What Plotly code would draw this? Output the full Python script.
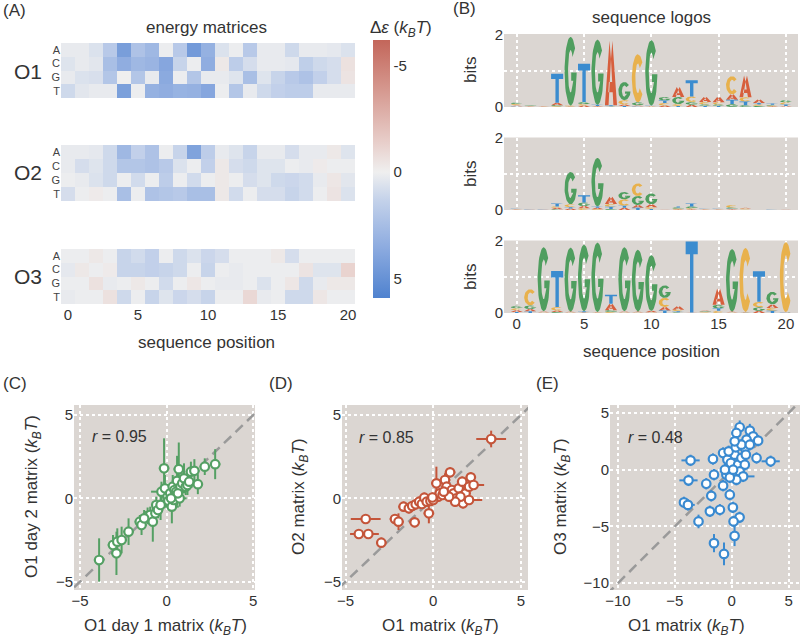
import numpy as np
import plotly.graph_objects as go

# energy matrices, delta epsilon (kBT); rows A, C, G, T; columns are positions 0..20
positions = list(range(21))
bases = ["A", "C", "G", "T"]

o1_energy = [
    [0.2, 0.2, 0.6, 1.8, 4.3, 2.2, 2.8, 0.1, 1.8, 4.5, 3.2, 0.6, 0.1, 1.8, 0.2, 0.2, 1.0, 0.2, 0.2, 0.3, 0.6],
    [0.5, 0.2, 0.4, 2.4, 3.4, 2.8, 3.0, 3.8, 1.2, 0.1, 3.4, -0.3, 1.6, 0.8, 0.2, 0.2, 0.3, 1.5, 1.0, 0.8, -0.6],
    [0.2, 0.6, 0.7, 2.0, 0.0, 2.0, 0.2, 3.6, 0.1, 2.0, 0.2, 0.2, 0.5, 2.4, 0.5, 1.2, 1.8, 2.2, 1.4, 0.8, -0.5],
    [1.0, 0.4, 0.2, 0.2, 4.2, 0.1, 3.2, 3.4, 3.1, 3.2, 3.8, 0.1, 2.0, 0.2, 1.0, 1.4, 1.6, 1.6, 0.2, 0.2, 0.2],
]
o2_energy = [
    [0.2, 0.2, 0.3, 1.0, 2.8, 1.4, 2.2, 0.1, 1.2, 4.0, 1.6, 0.2, 0.5, 1.2, 0.2, 0.2, 0.8, 0.2, 0.2, -0.3, 0.5],
    [0.2, 0.8, 0.5, 1.0, 2.0, 2.0, 2.2, 1.8, 0.6, 0.1, 1.4, -0.3, 0.8, 1.0, 0.5, 0.5, 0.1, 0.2, -0.2, 0.1, 0.1],
    [0.1, 0.2, 0.6, 1.0, 0.1, 0.9, 0.1, 1.6, 0.1, 0.9, 0.1, -0.3, 0.1, 0.8, 0.5, 1.0, 1.1, 0.9, 0.2, -0.4, 0.4],
    [0.8, 0.1, -0.2, 0.1, 2.4, 0.1, 2.2, 2.0, 1.8, 2.4, 2.4, -0.3, 0.9, 0.1, 0.8, 0.8, 1.2, 0.9, 0.1, -0.5, 0.6],
]
o3_energy = [
    [0.1, 0.1, -0.3, 0.1, 1.2, 0.9, 1.4, 0.1, 1.0, 0.6, 1.1, 0.8, 0.1, 0.1, 0.1, -0.3, 0.8, 0.1, 0.1, 0.1, 0.1],
    [0.3, -0.3, 0.1, -0.2, 1.2, 1.2, 1.4, 1.2, 1.0, 0.1, 1.2, 0.1, 0.2, 0.1, 0.1, 0.1, 0.1, -0.5, 0.5, 0.5, -1.2],
    [0.1, 0.1, -0.6, 0.2, 0.1, -0.3, 0.1, 0.9, 0.1, -0.4, 0.1, 0.2, 0.2, 0.1, 0.6, 0.1, -0.4, 1.0, 0.2, -0.3, -0.3],
    [0.2, 0.1, 0.1, -0.6, 1.0, 0.1, 1.2, 0.5, 1.1, 0.8, 1.2, 0.1, 0.1, -1.0, 0.2, 0.1, 1.0, 1.0, -0.4, 0.1, 0.1],
]

# sequence logos, information (bits) per letter and position
logo1_A = [.03, .01, .01, .07, .01, .04, .02, 1.78, .04, .03, .01, .04, .27, .06, .14, .15, .15, .60, .10, .02, .03]
logo1_C = [.03, .01, .01, .02, .02, .04, .01, .01, .12, 1.33, .01, .07, .05, .15, .07, .06, .50, .12, .04, .02, .06]
logo1_G = [.04, .02, .01, .03, 1.90, .06, 1.80, .01, .50, .08, 1.81, .10, .20, .08, .04, .04, .08, .05, .03, .02, .06]
logo1_T = [.02, .01, .01, .80, .01, 1.06, .03, .03, .03, .02, .02, .07, .03, .45, .03, .03, .12, .10, .04, .04, .04]

logo2_A = [.01, .005, .005, .04, .04, .06, .04, .20, .06, .08, .08, .005, .02, .02, .01, .01, .02, .03, 0, 0, .005]
logo2_C = [.01, .005, .005, .04, .08, .05, .02, .08, .18, .35, .05, .005, .02, .03, .01, .01, .07, .02, 0, 0, .005]
logo2_G = [.01, .005, .005, .02, .90, .10, 1.35, .03, .20, .25, .30, .005, .03, .05, .01, .01, .03, .01, 0, 0, .005]
logo2_T = [.01, .01, .01, .08, .04, .20, .04, .06, .06, .06, .03, .005, .03, .08, .01, .01, .02, .01, 0, .02, .005]

logo3_A = [.05, .06, .03, .04, .02, .01, .01, .18, .03, .02, .04, .10, .10, .005, .03, .45, .02, .01, .06, .10, .005]
logo3_C = [.05, .45, .01, .10, .01, .01, .01, .03, .01, .01, .01, .25, .04, .005, .02, .06, .01, 1.78, .15, .08, 1.95]
logo3_G = [.07, .10, 1.78, .03, 1.78, 1.85, 1.93, .05, 1.78, 1.72, 1.55, .35, .02, .005, .02, .10, 1.74, .01, .10, .35, .01]
logo3_T = [.03, .05, .01, 1.00, .01, .03, .01, .25, .01, .01, .01, .07, .03, 1.98, .01, .07, .01, .01, .85, .06, .01]

# scatter comparisons (kBT) with errors
c_x = [-3.9, -3.1, -2.9, -2.85, -2.6, -2.2, -1.55, -1.45, -1.1, -0.95, -0.8, -0.65, -0.6, -0.5, -0.35,
       -0.3, -0.15, -0.1, 0.05, 0.1, 0.2, 0.3, 0.35, 0.4, 0.45, 0.5, 0.55, 0.6, 0.7, 0.75, 0.8, 0.9,
       1.0, 1.1, 1.2, 1.3, 1.4, 1.6, 1.8, 2.2, 2.8, -1.3, 0.25, 0.65]
c_y = [-3.7, -2.8, -3.3, -2.6, -2.5, -2.0, -1.4, -1.6, -1.05, -1.0, -1.4, -0.9, -0.4, -0.7, -0.4,
       0.4, 1.8, 0.6, 0.1, -0.15, 0.3, -0.5, 0.7, -0.1, 0.5, 0.2, 0.4, 1.05, 1.75, 0.0, 0.7, 0.9,
       1.2, 0.7, 0.8, 1.0, 1.6, 1.65, 0.85, 1.9, 2.05, -1.2, 0.0, 0.3]
c_xerr = [0.3, 0.3, 0.3, 0.4, 0.3, 0.3, 0.3, 0.3, 0.3, 0.3, 0.3, 0.3, 0.3, 0.3, 0.5,
          0.6, 0.3, 0.3, 0.4, 0.4, 0.3, 0.4, 0.4, 0.5, 0.3, 0.3, 0.4, 0.3, 0.3, 0.4, 0.4, 0.3,
          0.3, 0.4, 0.3, 0.3, 0.3, 0.3, 0.3, 0.3, 0.3, 0.3, 0.3, 0.3]
c_yerr = [1.3, 0.6, 1.3, 0.8, 0.8, 0.8, 0.4, 0.6, 0.5, 0.5, 1.2, 0.5, 0.5, 0.5, 0.9,
          0.6, 1.8, 0.8, 0.5, 0.5, 0.5, 1.0, 0.7, 0.6, 0.5, 0.5, 0.6, 1.5, 1.6, 0.5, 0.7, 0.6,
          0.9, 0.5, 0.6, 0.5, 0.6, 0.7, 0.6, 0.5, 0.9, 0.5, 0.4, 0.5]

d_x = [3.3, -3.85, -4.24, -3.7, -2.96, -2.18, -1.98, -1.69, -1.39, -1.2, -1.0, -0.8, -0.65, -0.51,
       -0.37, -0.25, -1.06, -0.16, 0.18, 0.28, 0.37, 0.53, 0.67, 0.76, 0.96, 1.06, 1.16, 1.31, 1.45,
       1.65, 1.7, 1.84, 2.04, 2.14, 2.3, 1.55, 2.04, 1.25, 0.9, 0.0, -0.05, 0.6]
d_y = [3.56, -1.24, -2.14, -2.14, -2.66, -1.24, -1.4, -0.5, -0.6, -0.46, -0.36, -0.2, -0.34, 0.04,
       -0.2, -0.9, -1.44, -0.16, 0.9, 0.1, 0.3, 0.2, 1.1, 0.7, 1.56, 0.5, 0.3, 0.0, 0.6,
       1.0, -0.3, 0.3, 0.7, 1.26, 0.8, 0.1, -0.1, -0.2, 0.1, -0.1, 0.05, 0.4]
d_xerr = [0.85, 0.85, 0.5, 0.6, 0.3, 0.3, 0.3, 0.3, 0.3, 0.3, 0.3, 0.3, 0.3, 0.3,
          0.3, 0.3, 0.3, 0.3, 0.3, 0.3, 0.3, 0.3, 0.3, 0.3, 0.3, 0.3, 0.3, 0.3, 0.3,
          0.3, 0.3, 0.3, 0.3, 0.3, 0.6, 0.3, 0.75, 0.3, 0.3, 0.3, 0.3, 0.3]
d_yerr = [0.5, 0.3, 0.3, 0.3, 0.3, 0.3, 0.5, 0.3, 0.3, 0.3, 0.3, 0.3, 0.3, 0.3,
          0.3, 0.6, 0.3, 0.3, 1.0, 0.3, 0.3, 0.3, 0.4, 0.3, 0.3, 0.3, 0.3, 0.3, 0.3,
          0.3, 0.3, 0.3, 0.3, 0.3, 0.3, 0.3, 0.3, 0.3, 0.3, 0.3, 0.3, 0.3]

e_x = [-3.62, -3.8, -4.2, -3.85, -2.92, -1.56, -0.68, -1.92, -1.04, 0.1, 0.69, 0.16, 0.25, -1.8,
       -2.24, -1.56, -1.65, -0.76, -0.17, -0.47, -0.76, -0.38, -0.08, 0.26, 0.56, 0.85, 1.15, 0.7,
       1.0, 0.41, -0.17, 0.12, -0.27, 0.35, 0.7, 0.41, 1.59, 1.88, 1.3, 2.18, 3.42, 2.32, 1.15,
       0.85, 1.59, 0.26, 1.24, -0.6]
e_y = [0.82, -0.94, -2.88, -3.1, -4.56, -6.47, -7.42, -3.67, -3.53, -3.32, -4.2, -4.56, -5.83, -2.3,
       -1.24, -0.44, 0.94, -1.41, -2.2, -0.44, 1.47, 0.88, 0.59, 1.32, 0.44, 1.03, 0.44, -0.15,
       -0.59, -0.88, -0.68, 0.0, 1.62, 1.97, 3.74, 3.24, 3.44, 2.94, 2.65, 1.03, 0.74, 2.56, 1.91,
       2.2, 2.2, 2.5, 1.32, 0.0]
e_xerr = [0.8, 0.8, 0.4, 0.6, 0.4, 0.4, 0.4, 0.4, 0.4, 0.4, 0.4, 0.4, 0.4, 0.4,
          0.4, 0.4, 0.4, 0.4, 0.4, 0.4, 0.4, 0.4, 0.4, 0.4, 0.4, 0.4, 0.4, 0.4,
          1.0, 0.4, 0.4, 0.4, 0.4, 0.4, 0.4, 0.4, 0.4, 0.4, 0.4, 0.4, 0.8, 0.4, 0.4,
          0.4, 0.4, 0.4, 0.4, 0.4]
e_yerr = [0.5, 0.5, 0.5, 0.5, 0.6, 0.8, 1.0, 0.5, 0.5, 0.5, 0.5, 0.5, 0.9, 0.5,
          0.5, 0.5, 0.5, 0.5, 0.5, 0.5, 0.5, 0.5, 0.5, 0.5, 0.5, 0.5, 0.5, 0.5,
          0.5, 0.5, 0.5, 0.5, 0.5, 0.5, 0.6, 0.5, 0.6, 0.5, 0.5, 0.5, 0.5, 0.5, 0.5,
          0.5, 0.5, 0.5, 0.5, 0.5]

W, H = 800, 640
FONT = "Liberation Sans, Arial, sans-serif"
TXT = "#333333"
BG = "#dbd6d2"
LETTER_COLORS = {"A": "#d75f3d", "C": "#e8b14c", "G": "#4f9e5f", "T": "#3b8ccf"}
KBT = "(<i>k</i><sub><i>B</i></sub><i>T</i>)"


def px(x):
    return x / W


def py(y):
    return 1 - y / H


# letter outlines in a unit box
def glyph(letter):
    if letter == "T":
        return [[(0, 1), (1, 1), (1, 0.82), (0.64, 0.82), (0.64, 0), (0.36, 0), (0.36, 0.82), (0, 0.82)]]
    if letter == "A":
        return [
            [(0, 0), (0.38, 1), (0.62, 1), (0.5, 0.72), (0.3, 0)],
            [(1, 0), (0.62, 1), (0.38, 1), (0.5, 0.72), (0.7, 0)],
            [(0.28, 0.2), (0.72, 0.2), (0.67, 0.36), (0.33, 0.36)],
        ]
    if letter == "C":
        t = np.radians(np.linspace(42, 318, 40))
        outer = list(zip(0.5 + 0.5 * np.cos(t), 0.5 + 0.5 * np.sin(t)))
        inner = list(zip(0.5 + 0.21 * np.cos(t), 0.5 + 0.31 * np.sin(t)))[::-1]
        return [outer + inner]
    # G
    t = np.radians(np.linspace(42, 355, 44))
    outer = list(zip(0.5 + 0.5 * np.cos(t), 0.5 + 0.5 * np.sin(t)))
    ti = np.radians(np.linspace(42, 320, 40))
    inner = list(zip(0.5 + 0.21 * np.cos(ti), 0.5 + 0.31 * np.sin(ti)))[::-1]
    bar = [(1.0, 0.48), (0.55, 0.48), (0.55, 0.36), (0.72, 0.36)]
    return [outer + bar + inner]


def logo_traces(heights, xa, ya, width=0.9):
    traces = []
    stacks = {b: ([], []) for b in bases}
    for p in positions:
        col = [(heights[b][p], b) for b in bases]
        col.sort()
        base = 0.0
        for h, b in col:
            if h <= 0:
                continue
            for poly in glyph(b):
                xs, ys = stacks[b]
                for gx, gy in poly:
                    xs.append(p - width / 2 + gx * width)
                    ys.append(base + gy * h)
                xs.append(None)
                ys.append(None)
            base += h
    for b in bases:
        xs, ys = stacks[b]
        traces.append(go.Scatter(
            x=xs, y=ys, mode="lines", fill="toself", fillcolor=LETTER_COLORS[b],
            line=dict(width=0, color=LETTER_COLORS[b]), hoverinfo="skip",
            showlegend=False, xaxis=xa, yaxis=ya,
        ))
    return traces


fig = go.Figure()

# (A) energy matrices
heat_domains = [(43, 98), (145, 201), (249, 304)]
for i, m in enumerate([o1_energy, o2_energy, o3_energy]):
    fig.add_trace(go.Heatmap(
        z=-np.array(m), x=positions, y=[0, 1, 2, 3], coloraxis="coloraxis",
        xaxis=f"x{i + 1}" if i else "x", yaxis=f"y{i + 1}" if i else "y",
        hoverinfo="skip",
    ))

# (B) sequence logos
logos = [
    {"A": logo1_A, "C": logo1_C, "G": logo1_G, "T": logo1_T},
    {"A": logo2_A, "C": logo2_C, "G": logo2_G, "T": logo2_T},
    {"A": logo3_A, "C": logo3_C, "G": logo3_G, "T": logo3_T},
]
for i, lg in enumerate(logos):
    for tr in logo_traces(lg, f"x{i + 4}", f"y{i + 4}"):
        fig.add_trace(tr)

# (C)-(E) scatter panels
scatters = [
    (c_x, c_y, c_xerr, c_yerr, "#55a064", 7),
    (d_x, d_y, d_xerr, d_yerr, "#c4553a", 8),
    (e_x, e_y, e_xerr, e_yerr, "#3a8ad0", 9),
]
for x, y, xe, ye, color, n in scatters:
    fig.add_trace(go.Scatter(
        x=[-12, 7], y=[-12, 7], mode="lines",
        line=dict(color="#9a9a9a", width=2.5, dash="10px,6px"),
        hoverinfo="skip", showlegend=False, xaxis=f"x{n}", yaxis=f"y{n}",
    ))
    fig.add_trace(go.Scatter(
        x=x, y=y, mode="markers",
        marker=dict(size=8.5, color="white", line=dict(color=color, width=2.2)),
        error_x=dict(type="data", array=xe, color=color, thickness=2, width=0),
        error_y=dict(type="data", array=ye, color=color, thickness=2, width=0),
        showlegend=False, xaxis=f"x{n}", yaxis=f"y{n}",
    ))

layout = dict(
    template="none",
    width=W, height=H, margin=dict(l=0, r=0, t=0, b=0, autoexpand=False),
    paper_bgcolor="white", plot_bgcolor=BG,
    font=dict(family=FONT, size=14, color=TXT),
    coloraxis=dict(
        colorscale=[
            [0, "#4f82cf"], [0.2, "#8eace0"], [0.38, "#c4d2ea"], [0.488, "#efefef"],
            [0.6, "#e8cfcb"], [0.8, "#d69a91"], [1, "#c3665a"],
        ],
        cmin=-5.9, cmax=6.2,
        colorbar=dict(
            x=px(373), xanchor="left", y=py(169), yanchor="middle",
            len=258 / H, lenmode="fraction", thickness=17, outlinewidth=0,
            tickvals=[5, 0, -5], ticktext=["-5", "0", "5"], ticks="",
            tickfont=dict(size=15, color=TXT), ypad=0, xpad=0,
        ),
    ),
)

grid = dict(showgrid=True, gridcolor="white", griddash="dot", gridwidth=1.5,
            zeroline=False, showline=False, ticks="", automargin=False)

for i, (top, bot) in enumerate(heat_domains):
    k = "" if i == 0 else str(i + 1)
    layout[f"xaxis{k}"] = dict(
        domain=[px(61), px(355)], anchor=f"y{k}", range=[-0.5, 20.5], automargin=False,
        showgrid=False, zeroline=False, ticks="", tickvals=[0, 5, 10, 15, 20],
        showticklabels=(i == 2), tickfont=dict(size=15),
    )
    layout[f"yaxis{k}"] = dict(
        domain=[py(bot), py(top)], anchor=f"x{k}", range=[3.5, -0.5], automargin=False,
        showgrid=False, zeroline=False, ticks="", tickvals=[0, 1, 2, 3],
        ticktext=bases, tickfont=dict(size=11, color="#444"),
    )

logo_domains = [(34, 107), (137.5, 210), (240.5, 313)]
for i, (top, bot) in enumerate(logo_domains):
    n = i + 4
    layout[f"xaxis{n}"] = dict(
        grid, domain=[px(504), px(798)], anchor=f"y{n}", range=[-0.95, 20.9],
        tickvals=[0, 5, 10, 15, 20], showticklabels=(i == 2), tickfont=dict(size=15),
    )
    layout[f"yaxis{n}"] = dict(
        grid, domain=[py(bot), py(top)], anchor=f"x{n}", range=[0, 2.02],
        tickvals=[0, 2], tickfont=dict(size=15),
        minor=dict(tickvals=[1], showgrid=True, gridcolor="white", griddash="dot", gridwidth=1.5),
    )

scatter_axes = [
    (7, (74, 255), [-5.35, 5.1], [-5.5, 5.6], [-5, 0, 5], [-5, 0, 5]),
    (8, (342, 528), [-5.2, 5.4], [-5.5, 5.6], [-5, 0, 5], [-5, 0, 5]),
    (9, (610, 800), [-10.7, 6.0], [-10.6, 5.7], [-10, -5, 0, 5], [-10, -5, 0, 5]),
]
for n, (x0, x1), xr, yr, xt, yt in scatter_axes:
    layout[f"xaxis{n}"] = dict(
        grid, domain=[px(x0), px(x1)], anchor=f"y{n}", range=xr, tickvals=xt,
        tickfont=dict(size=15),
    )
    layout[f"yaxis{n}"] = dict(
        grid, domain=[py(590), py(405)], anchor=f"x{n}", range=yr, tickvals=yt,
        tickfont=dict(size=15),
    )

fig.update_layout(**layout)

notes = [
    ("(A)", 1, 10, 17, 0, "left"),
    ("(B)", 451, 9, 17, 0, "left"),
    ("(C)", 1, 383, 17, 0, "left"),
    ("(D)", 267, 383, 17, 0, "left"),
    ("(E)", 534, 383, 17, 0, "left"),
    ("energy matrices", 207, 28, 17, 0, "center"),
    ("sequence position", 207, 342, 17, 0, "center"),
    ("sequence logos", 651, 18, 17, 0, "center"),
    ("sequence position", 651, 351, 17, 0, "center"),
    ("Δ<i>ε</i> " + KBT, 368, 29, 17, 0, "left"),
    ("O1", 28, 71, 21, 0, "center"),
    ("O2", 28, 173, 21, 0, "center"),
    ("O3", 28, 276, 21, 0, "center"),
    ("bits", 470, 70, 17, -90, "center"),
    ("bits", 470, 174, 17, -90, "center"),
    ("bits", 470, 277, 17, -90, "center"),
    ("O1 day 1 matrix " + KBT, 165, 627, 17, 0, "center"),
    ("O1 matrix " + KBT, 440, 627, 17, 0, "center"),
    ("O1 matrix " + KBT, 686, 627, 17, 0, "center"),
    ("O1 day 2 matrix " + KBT, 33, 497, 17, -90, "center"),
    ("O2 matrix " + KBT, 300, 497, 17, -90, "center"),
    ("O3 matrix " + KBT, 562, 497, 17, -90, "center"),
    ("<i>r</i> = 0.95", 90, 436, 16, 0, "left"),
    ("<i>r</i> = 0.85", 357, 437, 16, 0, "left"),
    ("<i>r</i> = 0.48", 626, 437, 16, 0, "left"),
]
for text, x, y, size, ang, align in notes:
    fig.add_annotation(
        text=text, x=px(x), y=py(y), xref="paper", yref="paper",
        xanchor=align, yanchor="middle", showarrow=False, textangle=ang,
        font=dict(size=size, color=TXT, family=FONT),
    )

# the page body has a default 8px margin; drop it so the figure fills the window
fig.write_html(
    "out.html",
    config={"displayModeBar": False},
    post_script="document.body.style.margin = '0';",
)
